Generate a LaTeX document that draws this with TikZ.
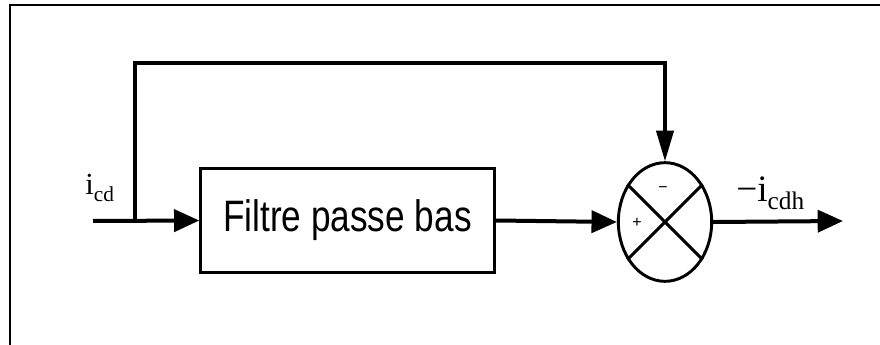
\documentclass[tikz,border=0pt]{standalone}
\usepackage{fontspec}
\setmainfont{Liberation Serif}
\setsansfont{Liberation Sans}
\newfontfamily\blockfont[FakeStretch=0.8]{Liberation Sans}
\usepackage{tikz}
\usetikzlibrary{arrows.meta,shapes.geometric,positioning,calc}
\newcommand{\lowsub}[2]{\raisebox{-0.2em}{\fontsize{#1}{#1}\selectfont #2}}
\tikzset{
  blk/.style={rectangle, draw, line width=2.2pt, inner sep=0pt,
    minimum width=220pt, minimum height=78pt,
    font=\blockfont\fontsize{33}{33}\selectfont},
  summer/.style={ellipse, draw, line width=2.2pt, inner sep=0pt,
    minimum width=70pt, minimum height=89pt},
  sig/.style={-{Triangle[length=19pt, width=16.5pt]}, line width=#1},
  sig/.default=3pt,
  fbsig/.style={-{Triangle[length=23pt, width=13pt]}, line width=2.4pt},
  frame/.style={line width=1.6pt, line cap=rect},
  sign/.style={font=\sffamily\fontsize{12}{12}\selectfont, inner sep=0pt}
}
\begin{document}
\begin{tikzpicture}[x=0.75pt, y=-0.75pt]
    \useasboundingbox (0,0) rectangle (880,345);
    % outer frame (open at right and bottom)
    \draw[frame] (10,345) -- (10,5) -- (880,5);

    \node[blk] (lpf) at (347.5,220.5) {Filtre passe bas};
    \node[summer] (sum) at (665,222) {};
    \draw[line width=2.2pt] (sum.45) -- (sum.225);
    \draw[line width=2.2pt] (sum.135) -- (sum.315);
    \node[sign] (plus) at (637,223) {+};
    \node[sign] (minus) at (663,190) {−};

    \coordinate (in) at (93,221);
    \coordinate (split) at (135,221);
    \coordinate (out) at (843,221);

    \draw[sig] (in) -- (lpf.west);
    \draw[sig] (lpf.east) -- (sum.west);
    \draw[fbsig] (split) |- (665,63)
        -- (sum.north);
    \draw[sig=3pt] (sum.east) -- (out);

    \node[anchor=base west, inner sep=0pt, font=\fontsize{23}{23}\selectfont]
        (icd) at (85,195) {i\lowsub{16}{cd}};
    \node[anchor=base west, inner sep=0pt, font=\fontsize{28}{28}\selectfont]
        (icdh) at (736,202) {−i\lowsub{19}{cdh}};
\end{tikzpicture}
\end{document}
